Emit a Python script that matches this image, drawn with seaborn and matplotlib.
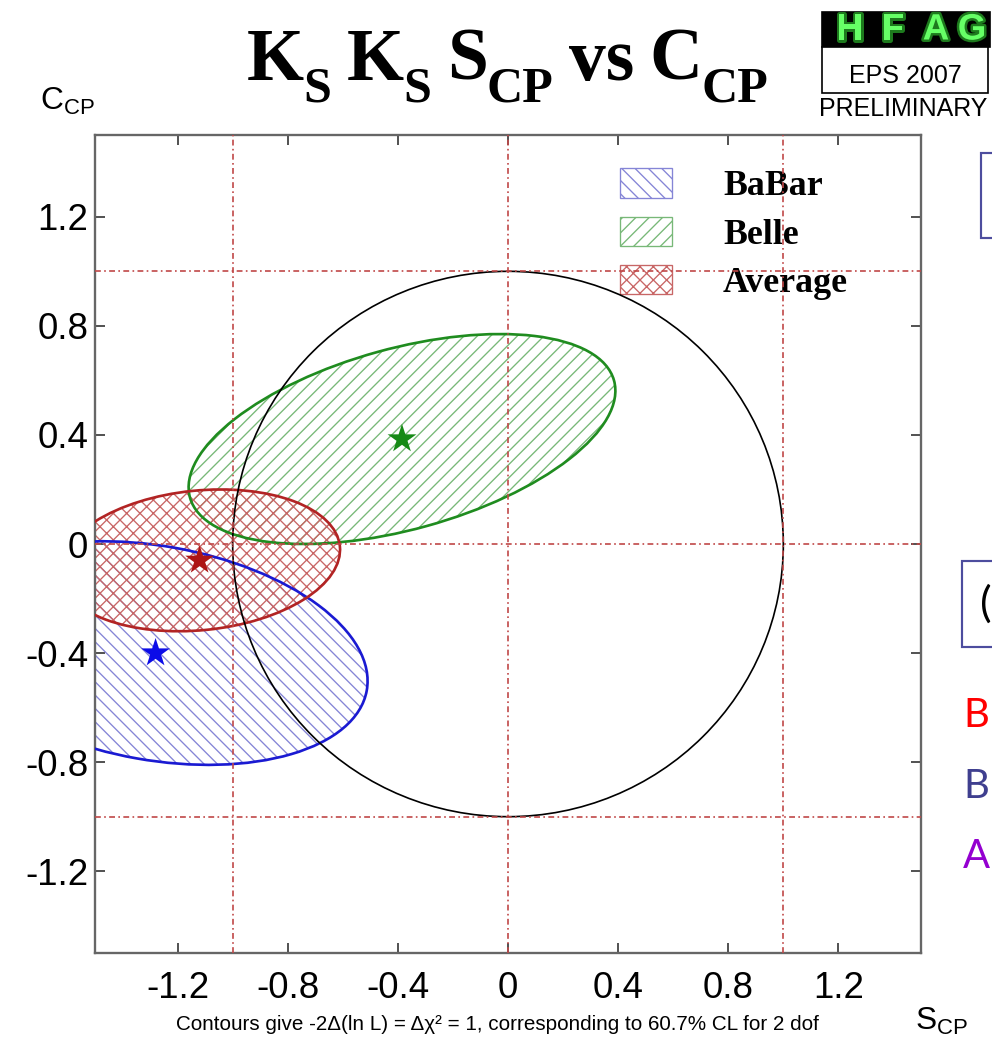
import numpy as np
import pandas as pd
import matplotlib
matplotlib.use("Agg")
import matplotlib.pyplot as plt
import matplotlib.patheffects as pe
from matplotlib.patches import Ellipse, Circle, Rectangle, Patch
import seaborn as sns

# ---- data -------------------------------------------------------------
experiments = ["BaBar", "Belle", "Average"]
s_center = [-1.28, -0.385, -1.12]
c_center = [-0.40, 0.385, -0.06]
s_halfwidth = [0.77, 0.775, 0.51]
c_halfwidth = [0.41, 0.385, 0.26]
correlation = [-0.25, 0.46, 0.15]

tick_values = [-1.2, -0.8, -0.4, 0.0, 0.4, 0.8, 1.2]
tick_labels = ["-1.2", "-0.8", "-0.4", "0", "0.4", "0.8", "1.2"]
physical_bounds = [-1.0, 0.0, 1.0]

title_parts = [("K", "S"), ("K", "S"), ("S", "CP"), ("vs", ""), ("C", "CP")]

# ---- style ------------------------------------------------------------
sns.set_theme(style="white")
plt.rcParams["font.family"] = ["Liberation Sans", "DejaVu Sans"]
plt.rcParams["text.color"] = "black"
plt.rcParams["axes.labelcolor"] = "black"
plt.rcParams["mathtext.fontset"] = "custom"
plt.rcParams["mathtext.rm"] = "Liberation Sans"
plt.rcParams["mathtext.it"] = "Liberation Sans:italic"
plt.rcParams["mathtext.bf"] = "Liberation Sans:bold"
plt.rcParams["hatch.linewidth"] = 0.8

line_colors = {"BaBar": "#1a1ad2", "Belle": "#1f8c1f", "Average": "#b22424"}
hatch_colors = {"BaBar": "#8585d6", "Belle": "#78b878", "Average": "#c86666"}
star_colors = {"BaBar": "#0c0ce8", "Belle": "#168a16", "Average": "#ad1414"}
hatches = {"BaBar": "\\\\\\", "Belle": "///", "Average": "xxx"}

W, H, DPI = 992, 1062, 120
fig = plt.figure(figsize=(W / DPI, H / DPI), dpi=DPI)
ax = fig.add_axes([95 / W, 1 - 953 / H, 826 / W, 818 / H])

df = pd.DataFrame({
    "experiment": experiments,
    "S": s_center,
    "C": c_center,
    "sS": s_halfwidth,
    "sC": c_halfwidth,
    "rho": correlation,
})


def ellipse_geometry(row):
    cov = np.array([[row.sS ** 2, row.rho * row.sS * row.sC],
                    [row.rho * row.sS * row.sC, row.sC ** 2]])
    vals, vecs = np.linalg.eigh(cov)
    major = vecs[:, 1]
    angle = np.degrees(np.arctan2(major[1], major[0]))
    return 2 * np.sqrt(vals[1]), 2 * np.sqrt(vals[0]), angle


# hatched interiors first, outlines on top
for row in df.itertuples():
    w, h, a = ellipse_geometry(row)
    ax.add_patch(Ellipse((row.S, row.C), w, h, angle=a, fill=False,
                         hatch=hatches[row.experiment],
                         edgecolor=hatch_colors[row.experiment],
                         linewidth=0, zorder=2))
for row in df.itertuples():
    w, h, a = ellipse_geometry(row)
    ax.add_patch(Ellipse((row.S, row.C), w, h, angle=a, fill=False,
                         edgecolor=line_colors[row.experiment],
                         linewidth=1.6, zorder=3))

# central values
sns.scatterplot(data=df, x="S", y="C", hue="experiment", palette=star_colors,
                marker="*", s=330, linewidth=0, legend=False, ax=ax, zorder=4)

# physical boundary S^2 + C^2 = 1
ax.add_patch(Circle((0, 0), 1.0, fill=False, edgecolor="black",
                    linewidth=1.0, zorder=6))
for v in physical_bounds:
    ax.axvline(v, color="#c04848", linewidth=1.0,
               linestyle=(0, (3.5, 2, 1, 2)), zorder=7)
    ax.axhline(v, color="#c04848", linewidth=1.0,
               linestyle=(0, (3.5, 2, 1, 2)), zorder=7)

ax.set_xlim(-1.5, 1.5)
ax.set_ylim(-1.5, 1.5)
ax.set_xticks(tick_values)
ax.set_xticklabels(tick_labels)
ax.set_yticks(tick_values)
ax.set_yticklabels(tick_labels)
ax.set_xlabel("")
ax.set_ylabel("")
ax.tick_params(axis="both", direction="in", length=6, width=1.2,
               color="#555555", top=True, right=True, bottom=True, left=True,
               labelsize=22, labelcolor="black")
ax.tick_params(axis="x", pad=11)
ax.tick_params(axis="y", pad=4)
for sp in ax.spines.values():
    sp.set_color("#666666")
    sp.set_linewidth(1.4)

handles = [Patch(facecolor="white", edgecolor=hatch_colors[e],
                 hatch=hatches[e], linewidth=0.8, label=e)
           for e in experiments]
leg = ax.legend(handles=handles, loc="upper left",
                bbox_to_anchor=(0.614, 0.981),
                frameon=False, borderpad=0, handlelength=1.45,
                handleheight=0.87, handletextpad=1.42, labelspacing=0.37,
                prop={"family": "Liberation Serif", "weight": "bold",
                      "size": 21.5})
for t in leg.get_texts():
    t.set_color("black")

# ---- title built from main glyphs and lowered subscripts ----------------
renderer = fig.canvas.get_renderer()
big, small = 44, 30
sub_drop = 22 / H
gap = 15
serif_bold = dict(family="Liberation Serif", fontweight="bold",
                  color="black")
measured = []
for main, sub in title_parts:
    t1 = fig.text(0, 0, main, fontsize=big, **serif_bold)
    w1 = t1.get_window_extent(renderer).width
    t1.remove()
    w2 = 0
    if sub:
        t2 = fig.text(0, 0, sub, fontsize=small, **serif_bold)
        w2 = t2.get_window_extent(renderer).width
        t2.remove()
    measured.append((w1, w2))
total = sum(a + b for a, b in measured) + gap * (len(title_parts) - 1)
x = 508 - total / 2
base_y = 1 - 80 / H
for (main, sub), (w1, w2) in zip(title_parts, measured):
    fig.text(x / W, base_y, main, fontsize=big, ha="left", va="baseline",
             **serif_bold)
    if sub:
        fig.text((x + w1 - 1) / W, base_y - sub_drop, sub, fontsize=small,
                 ha="left", va="baseline", **serif_bold)
    x += w1 + w2 + gap

fig.text(40 / W, 1 - 110 / H, r"$\mathrm{C}_\mathrm{CP}$", fontsize=19,
         ha="left", va="baseline")
fig.text(915 / W, 1 - 1030 / H, r"$\mathrm{S}_\mathrm{CP}$", fontsize=19,
         ha="left", va="baseline")
fig.text(497 / W, 1 - 1025 / H,
         "Contours give -2\u0394(ln L) = \u0394\u03c7\u00b2 = 1, corresponding to 60.7% CL for 2 dof",
         fontsize=12.4, ha="center", va="center",
         family=["Liberation Sans Narrow", "Liberation Sans", "DejaVu Sans"])

# ---- HFAG badge --------------------------------------------------------
fig.patches.append(Rectangle((822 / W, 1 - 47 / H), 168 / W, 35 / H,
                             transform=fig.transFigure, facecolor="black",
                             edgecolor="black", zorder=1))
fig.patches.append(Rectangle((822 / W, 1 - 93 / H), 166 / W, 46 / H,
                             transform=fig.transFigure, facecolor="white",
                             edgecolor="black", linewidth=1.0, zorder=1))
for letter, xc in zip("HFAG", [850, 893, 936, 972]):
    fig.text(xc / W, 1 - 30 / H, letter, fontsize=22, fontweight="bold",
             color="#66ff66", ha="center", va="center",
             path_effects=[pe.withStroke(linewidth=3, foreground="#1d7a1d")])
fig.text(905 / W, 1 - 76 / H, "EPS 2007", fontsize=15, ha="center",
         va="center")
fig.text(903 / W, 1 - 109 / H, "PRELIMINARY", fontsize=15, ha="center",
         va="center")

# ---- neighbouring slide content ----------------------------------------
box_edge = "#4d4d9e"
fig.patches.append(Rectangle((981 / W, 1 - 238 / H), 40 / W, 85 / H,
                             transform=fig.transFigure, facecolor="white",
                             edgecolor=box_edge, linewidth=1.3))
fig.patches.append(Rectangle((962 / W, 1 - 647 / H), 60 / W, 86 / H,
                             transform=fig.transFigure, facecolor="white",
                             edgecolor=box_edge, linewidth=1.3))
fig.text(980 / W, 1 - 604 / H, "(", fontsize=26, ha="left", va="center",
         family=["Lato", "DejaVu Sans"], color="black")
for letter, yb, col in [("B", 727, "#ff0000"), ("B", 798, "#3f3f8f"),
                        ("A", 868, "#9400d0")]:
    fig.text(963 / W, 1 - yb / H, letter, fontsize=24, ha="left",
             va="baseline", color=col, family=["Lato", "DejaVu Sans"])

fig.savefig("out.png", dpi=DPI)
